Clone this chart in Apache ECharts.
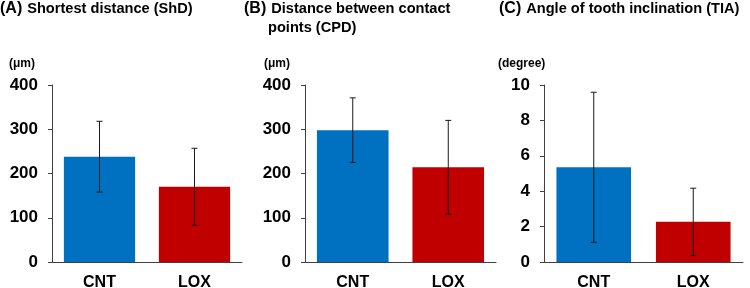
<!doctype html>
<html>
<head>
  <meta charset="utf-8">
  <title>ShD / CPD / TIA</title>
  <script src="https://cdn.jsdelivr.net/npm/echarts@6/dist/echarts.min.js"></script>
  <style>
    html, body { margin: 0; padding: 0; background: #fff; }
  </style>
</head>
<body>
  <div id="main" style="width:750px;height:288px;"></div>
  <script>
  // groups on the x axis
  var groups = ['CNT', 'LOX'];
  var barColors = ['#0070C0', '#C00000'];

  // (A) shortest distance, um
  var shdMean = [238, 170];
  var shdSd = [80, 87];
  // (B) distance between contact points, um
  var cpdMean = [298, 214];
  var cpdSd = [73, 106];
  // (C) angle of tooth inclination, degree
  var tiaMean = [5.35, 2.27];
  var tiaSd = [4.24, 1.9];

  var panels = [
    { letter: '(A)', title: 'Shortest distance (ShD)', unit: '(μm)', mean: shdMean, sd: shdSd,
      max: 400, interval: 100, left: 52, width: 190, titleX: 0, unitX: 9 },
    { letter: '(B)', title: 'Distance between contact', title2: 'points (CPD)', unit: '(μm)', mean: cpdMean, sd: cpdSd,
      max: 400, interval: 100, left: 305, width: 191, titleX: 244, title2X: 268, unitX: 264 },
    { letter: '(C)', title: 'Angle of tooth inclination (TIA)', unit: '(degree)', mean: tiaMean, sd: tiaSd,
      max: 10, interval: 2, left: 544, width: 199, titleX: 499, unitX: 498 }
  ];

  var font = 'Liberation Sans, Arial, sans-serif';
  var grid = [], xAxis = [], yAxis = [], series = [], title = [];

  function errorBar(params, api) {
    var x = api.value(0);
    var top = api.coord([x, api.value(2)]);
    var bot = api.coord([x, api.value(1)]);
    var cap = 3;
    var style = { stroke: '#1a1a1a', lineWidth: 1 };
    return {
      type: 'group',
      children: [
        { type: 'line', shape: { x1: top[0], y1: top[1], x2: bot[0], y2: bot[1] }, style: style },
        { type: 'line', shape: { x1: top[0] - cap, y1: top[1], x2: top[0] + cap, y2: top[1] }, style: style },
        { type: 'line', shape: { x1: bot[0] - cap, y1: bot[1], x2: bot[0] + cap, y2: bot[1] }, style: style }
      ]
    };
  }

  panels.forEach(function (p, i) {
    grid.push({ left: p.left, width: p.width, top: 85, bottom: 26, outerBoundsMode: 'none' });
    xAxis.push({
      type: 'category', gridIndex: i, data: groups,
      axisLine: { lineStyle: { color: '#404040', width: 1 } },
      axisTick: { show: false },
      axisLabel: { color: '#000', fontWeight: 'bold', fontSize: 16, fontFamily: font, margin: 13 }
    });
    yAxis.push({
      type: 'value', gridIndex: i, min: 0, max: p.max, interval: p.interval,
      axisLine: { show: true, lineStyle: { color: '#404040', width: 1 } },
      axisTick: { show: true, length: 4, lineStyle: { color: '#404040' } },
      splitLine: { show: false },
      axisLabel: { color: '#000', fontWeight: 'bold', fontSize: 17, fontFamily: font, margin: 14 }
    });
    series.push({
      type: 'bar', xAxisIndex: i, yAxisIndex: i, barWidth: '75%',
      data: p.mean.map(function (v, k) {
        return { value: v, itemStyle: { color: barColors[k] } };
      }),
      silent: true
    });
    series.push({
      type: 'custom', xAxisIndex: i, yAxisIndex: i, renderItem: errorBar, silent: true, z: 5,
      data: p.mean.map(function (v, k) {
        return [k, v - p.sd[k], v + p.sd[k]];
      })
    });
    title.push({
      left: p.titleX, top: -1, padding: 0,
      text: '{l|' + p.letter + '} {t|' + p.title + '}',
      textStyle: {
        fontFamily: font,
        rich: {
          l: { fontSize: 16, fontWeight: 'bold', color: '#000', fontFamily: font, lineHeight: 20 },
          t: { fontSize: 14.6, fontWeight: 'bold', color: '#000', fontFamily: font, lineHeight: 20 }
        }
      }
    });
    if (p.title2) {
      title.push({
        left: p.title2X, top: 18, padding: 0, text: p.title2,
        textStyle: { fontSize: 14.6, fontWeight: 'bold', color: '#000', fontFamily: font, lineHeight: 20 }
      });
    }
    title.push({
      left: p.unitX, top: 57, padding: 0, text: p.unit,
      textStyle: { fontSize: 12, fontWeight: 'bold', color: '#000', fontFamily: font, lineHeight: 14 }
    });
  });

  var chart = echarts.init(document.getElementById('main'));
  chart.setOption({
    animation: false,
    backgroundColor: '#fff',
    title: title,
    grid: grid,
    xAxis: xAxis,
    yAxis: yAxis,
    series: series
  });
  </script>
</body>
</html>
